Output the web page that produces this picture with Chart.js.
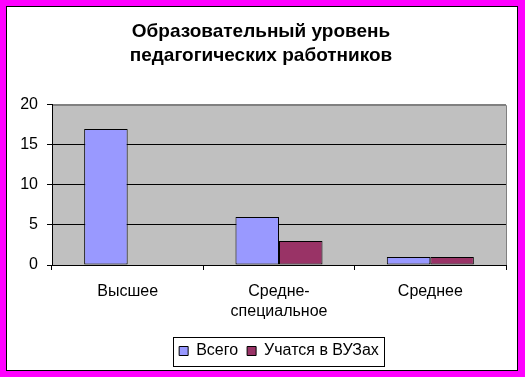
<!DOCTYPE html>
<html>
<head>
<meta charset="utf-8">
<script src="https://cdn.jsdelivr.net/npm/chart.js"></script>
<style>
  body { margin: 0; }
  #frame { position: relative; width: 525px; height: 377px; background: #ff00ff; }
  #inner { position: absolute; left: 6px; top: 6px; width: 512px; height: 365px;
           border: 1px solid #000; box-sizing: border-box; background: #fff; }
  #myChart { position: absolute; left: 0; top: 0; }
</style>
</head>
<body>
<div id="frame">
  <div id="inner"></div>
  <canvas id="myChart" width="525" height="377"></canvas>
</div>
<script>
// chart data
const categories = [["Высшее"], ["Средне-", "специальное"], ["Среднее"]];
const totalValues = [17, 6, 1];
const studyingValues = [0, 3, 1];
const seriesNames = ["Всего", "Учатся в ВУЗах"];
const yMin = 0;
const yMax = 20;
const yStep = 5;
const titleLines = ["Образовательный уровень", "педагогических работников"];

const fontFamily = "'Liberation Sans', Arial, sans-serif";
const legendPadding = 9;
const legendFontSize = 16;

// grey plot background + grey top/right frame
const plotFrame = {
  id: "plotFrame",
  beforeDraw: (chart) => {
    const { ctx, chartArea } = chart;
    ctx.save();
    ctx.fillStyle = "#c0c0c0";
    ctx.fillRect(chartArea.left, chartArea.top, chartArea.right - chartArea.left, chartArea.bottom - chartArea.top);
    ctx.strokeStyle = "#808080";
    ctx.lineWidth = 1;
    ctx.beginPath();
    ctx.moveTo(chartArea.left, Math.round(chartArea.top) + 0.5);
    ctx.lineTo(Math.round(chartArea.right) + 0.5, Math.round(chartArea.top) + 0.5);
    ctx.lineTo(Math.round(chartArea.right) + 0.5, chartArea.bottom);
    ctx.stroke();
    ctx.restore();
  }
};

// center the legend under the plot area and draw a box round it
const legendBorder = {
  id: "legendBorder",
  afterLayout: (chart) => {
    const legend = chart.legend;
    const area = chart.chartArea;
    const shift = (area.left + area.right) / 2 - (legend.left + legend.right) / 2;
    legend.left += shift;
    legend.right += shift;
  },
  afterDraw: (chart) => {
    const legend = chart.legend;
    if (!legend || !legend.lineWidths) return;
    const w = legend.lineWidths[0];
    const startX = (legend.left + legendPadding + legend.right - w) / 2;
    const left = startX - 6;
    const right = startX + w - legendPadding + 5;
    const top = legend.top + legendPadding - 6;
    const bottom = legend.top + legendPadding + legendFontSize + 7;
    const ctx = chart.ctx;
    ctx.save();
    ctx.strokeStyle = "#000";
    ctx.lineWidth = 1;
    ctx.strokeRect(Math.round(left) + 0.5, Math.round(top) + 0.5, Math.round(right - left), Math.round(bottom - top));
    ctx.restore();
  }
};

new Chart("myChart", {
  type: "bar",
  data: {
    labels: categories,
    datasets: [{
      label: seriesNames[0],
      data: totalValues,
      backgroundColor: "#9999ff",
      borderColor: "#000",
      borderWidth: 1,
      borderSkipped: false
    }, {
      label: seriesNames[1],
      data: studyingValues,
      backgroundColor: "#993366",
      borderColor: "#000",
      borderWidth: 1,
      borderSkipped: false
    }]
  },
  options: {
    responsive: false,
    animation: false,
    categoryPercentage: 0.575,
    barPercentage: 1,
    layout: { padding: { left: 16, right: 19, top: 10, bottom: 8 } },
    plugins: {
      title: {
        display: true,
        text: titleLines,
        color: "#000",
        font: { family: fontFamily, size: 19, weight: "bold", lineHeight: 1.263 },
        padding: { top: 10, bottom: 37 }
      },
      legend: {
        position: "bottom",
        labels: {
          color: "#000",
          font: { family: fontFamily, size: legendFontSize },
          boxWidth: 9,
          boxHeight: 9,
          padding: legendPadding
        }
      },
      tooltip: { enabled: false }
    },
    scales: {
      x: {
        afterFit: (scale) => { scale.height = 69; },
        grid: {
          offset: true,
          drawOnChartArea: false,
          tickLength: 5,
          tickColor: "#000"
        },
        border: { color: "#000", width: 1 },
        ticks: {
          color: "#000",
          padding: 12,
          maxRotation: 0,
          font: { family: fontFamily, size: 16, lineHeight: 1.25 }
        }
      },
      y: {
        min: yMin,
        max: yMax,
        afterFit: (scale) => { scale.width = 36; },
        grid: {
          color: (c) => (c.tick && c.tick.value === yMax ? "#808080" : "#000"),
          tickLength: 5,
          tickColor: "#000"
        },
        border: { color: "#000", width: 1 },
        ticks: {
          stepSize: yStep,
          color: "#000",
          padding: 9,
          font: { family: fontFamily, size: 16 }
        }
      }
    }
  },
  plugins: [plotFrame, legendBorder]
});
</script>
</body>
</html>
